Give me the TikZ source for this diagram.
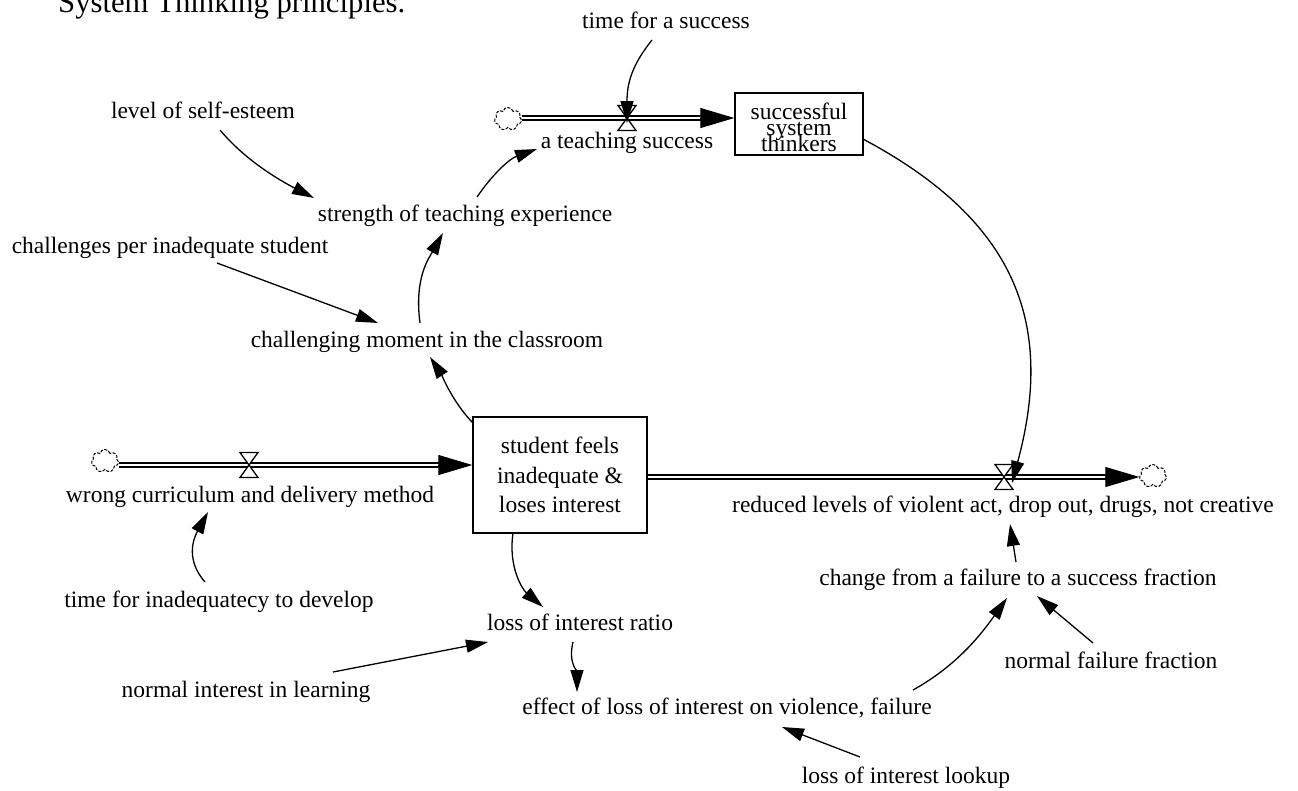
\documentclass[tikz,border=0pt]{standalone}
\usepackage{fontspec}
\setmainfont{Liberation Serif}
\usetikzlibrary{arrows.meta,shapes.symbols}
\begin{document}
\begin{tikzpicture}[x=1pt,y=-1pt,
  lbl/.style={anchor=base, inner sep=0pt, font=\fontsize{23.5}{28}\selectfont},
  link/.style={line width=1.3pt, -{Triangle[length=22pt,width=13pt]}},
  pipe/.style={double, line width=1.6pt, double distance=2.8pt},
  pipetip/.style={line width=1pt, -{Triangle[length=34pt,width=20pt]}},
  stockbox/.style={draw, line width=1.4pt, inner sep=0pt},
  cloudsrc/.style={cloud, cloud puffs=7, aspect=1.2, draw, line width=1pt, dash pattern=on 3pt off 1.5pt, minimum width=27pt, minimum height=23pt, inner sep=0pt},
  valve/.style={fill=white, line width=1.3pt}
]
\useasboundingbox (0,0) rectangle (1298,790);

% title (cut at top)
\node[anchor=base west, inner sep=0pt, font=\fontsize{30.7}{36}\selectfont] (title) at (58,12) {System Thinking principles.};

% stocks
\node[stockbox, minimum width=128pt, minimum height=62pt] (sT) at (799,124) {};
\node[align=center, inner sep=0pt, font={\fontsize{23.5}{16}\selectfont\lineskiplimit=-50pt}] (sTtext) at ([yshift=-3]sT.center) {successful\\system\\thinkers};
\node[stockbox, minimum width=174pt, minimum height=116pt, align=center, font=\fontsize{23.5}{29.5}\selectfont] (sS) at (560,475) {student feels\\inadequate \&\\loses interest};

% clouds
\node[cloudsrc] (cT) at (508,119) {};
\node[cloudsrc] (cL) at (105,461) {};
\node[cloudsrc] (cR) at (1153,476) {};

% valve centres
\coordinate (vT) at (627,118);
\coordinate (vL) at (249,465);
\coordinate (vR) at (1004,477);

% pipes
\draw[pipe] (cT.east |- vT) -- ([xshift=-30]sT.west |- vT);
\draw[pipetip] ([xshift=-34]sT.west |- vT) -- (sT.west |- vT);
\draw[pipe] (cL.east |- vL) -- ([xshift=-30]sS.west |- vL);
\draw[pipetip] ([xshift=-34]sS.west |- vL) -- (sS.west |- vL);
\draw[pipe] (sS.east |- vR) -- ([xshift=-30]cR.west |- vR);
\draw[pipetip] ([xshift=-34]cR.west |- vR) -- (cR.west |- vR);

% valves
\draw[valve] ([shift={(-9,-12.5)}]vT) -- ([shift={(9,-12.5)}]vT) -- ([shift={(-9,12.5)}]vT) -- ([shift={(9,12.5)}]vT) -- cycle;
\draw[valve] ([shift={(-9,-12.5)}]vL) -- ([shift={(9,-12.5)}]vL) -- ([shift={(-9,12.5)}]vL) -- ([shift={(9,12.5)}]vL) -- cycle;
\draw[valve] ([shift={(-9,-12.5)}]vR) -- ([shift={(9,-12.5)}]vR) -- ([shift={(-9,12.5)}]vR) -- ([shift={(9,12.5)}]vR) -- cycle;

% labels
\node[lbl] (timesuccess) at (666,28) {time for a success};
\node[lbl] (teachsucc) at (627,148) {a teaching success};
\node[lbl] (selfesteem) at (203,118) {level of self-esteem};
\node[lbl] (strength) at (465,221) {strength of teaching experience};
\node[lbl] (challenges) at (170,253) {challenges per inadequate student};
\node[lbl] (challenging) at (427,347) {challenging moment in the classroom};
\node[lbl] (wrong) at (250,502) {wrong curriculum and delivery method};
\node[lbl] (timeinad) at (219,607) {time for inadequatecy to develop};
\node[lbl] (lossratio) at (580,630) {loss of interest ratio};
\node[lbl] (normint) at (246,697) {normal interest in learning};
\node[lbl] (effect) at (727,714) {effect of loss of interest on violence, failure};
\node[lbl] (lookup) at (906,783) {loss of interest lookup};
\node[lbl] (change) at (1018,585) {change from a failure to a success fraction};
\node[lbl] (normfail) at (1111,668) {normal failure fraction};
\node[lbl] (reduced) at (1003,512) {reduced levels of violent act, drop out, drugs, not creative};

% connectors
\draw[link] ([shift={(-14,12)}]timesuccess.base) .. controls +(-20,25) and +(0,-40) .. ([shift={(0,5)}]vT);
\draw[link] ([shift={(17,12)}]selfesteem.base) .. controls +(25,30) and +(-35,-18) .. ([shift={(-151,-23)}]strength.base);
\draw[link] ([shift={(12,-24)}]strength.base) .. controls +(15,-22) and +(-28,10) .. ([shift={(-90,1)}]teachsucc.base);
\draw[link] ([shift={(47,10)}]challenges.base) -- ([shift={(-49,-24)}]challenging.base);
\draw[link] ([shift={(-7,-24)}]challenging.base) .. controls +(-6,-45) and +(-14,25) .. ([shift={(-22,12)}]strength.base);
\draw[link] ([shift={(-87,-52)}]sS.center) .. controls +(-20,-20) and +(10,15) .. ([shift={(3,10)}]challenging.base);
\draw[link] ([shift={(-14,-25)}]timeinad.base) .. controls +(-22,-25) and +(-12,22) .. ([shift={(-42,10)}]wrong.base);
\draw[link] ([shift={(-47,58)}]sS.center) .. controls +(-5,35) and +(-20,-17) .. ([shift={(-37,-23)}]lossratio.base);
\draw[link] ([shift={(87,-25)}]normint.base) -- ([shift={(-92,12)}]lossratio.base);
\draw[link] ([shift={(-7,12)}]lossratio.base) .. controls +(-5,20) and +(0,-20) .. ([shift={(-150,-22)}]effect.base);
\draw[link] ([shift={(-46,-26)}]lookup.base) -- ([shift={(55,13)}]effect.base);
\draw[link] ([shift={(186,-24)}]effect.base) .. controls +(45,-25) and +(-25,35) .. ([shift={(-11,13)}]change.base);
\draw[link] ([shift={(-18,-25)}]normfail.base) -- ([shift={(19,11)}]change.base);
\draw[link] ([shift={(-2,-23)}]change.base) -- ([shift={(7,12)}]reduced.base);
\draw[link] ([shift={(64,15)}]sT.center) .. controls +(150,80) and +(44,-163) .. ([shift={(8,6)}]vR);
\end{tikzpicture}
\end{document}
